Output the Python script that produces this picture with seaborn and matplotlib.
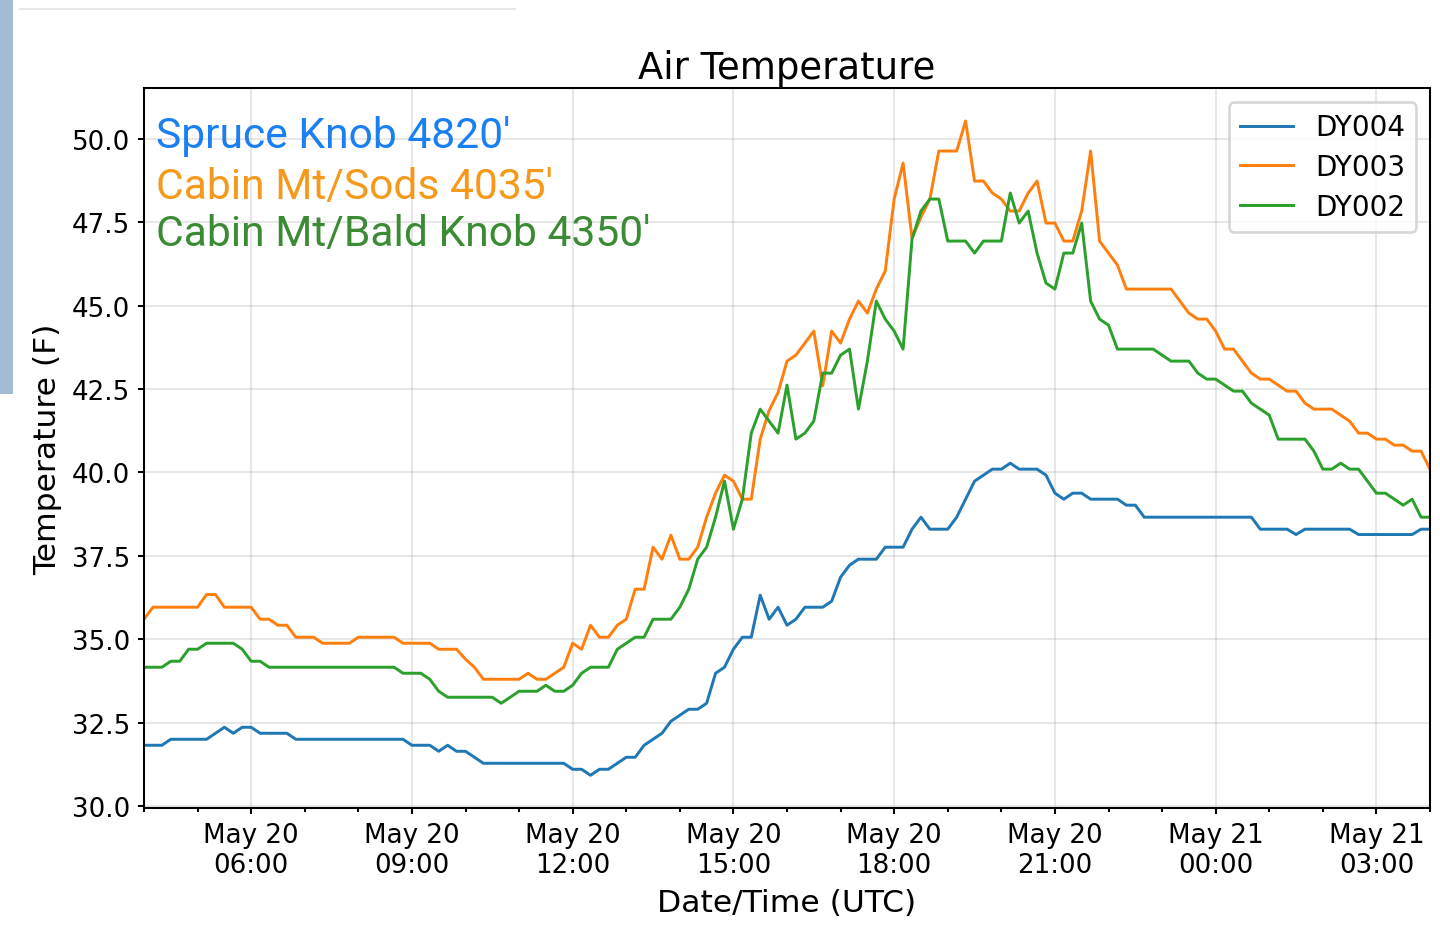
import numpy as np
import pandas as pd
import matplotlib
matplotlib.use("Agg")
import matplotlib.pyplot as plt
import matplotlib.dates as mdates
from matplotlib.patches import Rectangle
from matplotlib.lines import Line2D
import seaborn as sns

# ---------------- data (10-minute readings, deg F) ----------------
start_time = "2019-05-20 04:00"
step = "10min"

dy004 = ([31.82] * 3 + [32.0] * 5 + [32.18, 32.36, 32.18, 32.36, 32.36] + [32.18] * 4
         + [32.0] * 13 + [31.82] * 3 + [31.64, 31.82, 31.64, 31.64, 31.46] + [31.28] * 10
         + [31.1, 31.1, 30.92, 31.1, 31.1, 31.28, 31.46, 31.46, 31.82, 32.0,
            32.18, 32.54, 32.72, 32.9, 32.9, 33.08, 33.98, 34.16, 34.7, 35.06,
            35.06, 36.32, 35.6, 35.96, 35.42, 35.6, 35.96, 35.96, 35.96, 36.14,
            36.86, 37.22, 37.4, 37.4, 37.4, 37.76, 37.76, 37.76, 38.3, 38.66,
            38.3, 38.3, 38.3, 38.66, 39.2, 39.74, 39.92, 40.1, 40.1, 40.28,
            40.1, 40.1, 40.1, 39.92, 39.38, 39.2, 39.38, 39.38, 39.2, 39.2,
            39.2, 39.2, 39.02, 39.02]
         + [38.66] * 13 + [38.3] * 4 + [38.14] + [38.3] * 6 + [38.14] * 7 + [38.3, 38.3])

dy003 = ([35.6] + [35.96] * 6 + [36.34, 36.34] + [35.96] * 4 + [35.6, 35.6, 35.42, 35.42]
         + [35.06] * 3 + [34.88] * 4 + [35.06] * 5 + [34.88] * 4 + [34.7] * 3
         + [34.4, 34.16, 33.8, 33.8, 33.8, 33.8, 33.8, 33.98, 33.8, 33.8,
            33.98, 34.16, 34.88, 34.7, 35.42, 35.06, 35.06, 35.42, 35.6, 36.5,
            36.5, 37.76, 37.4, 38.12, 37.4, 37.4, 37.76, 38.66, 39.38, 39.92,
            39.74, 39.2, 39.2, 41.0, 41.86, 42.4, 43.34, 43.52, 43.88, 44.24,
            42.6, 44.24, 43.88, 44.6, 45.14, 44.78, 45.5, 46.04, 48.2, 49.28,
            47.03, 47.66, 48.2, 49.64, 49.64, 49.64, 50.54, 48.74, 48.74, 48.38,
            48.2, 47.84, 47.84, 48.38, 48.74, 47.48, 47.48, 46.94, 46.94, 47.84,
            49.64, 46.94, 46.58, 46.22]
         + [45.5] * 6
         + [45.14, 44.78, 44.6, 44.6, 44.24, 43.7, 43.7, 43.34, 42.98, 42.8,
            42.8, 42.62, 42.44, 42.44, 42.08]
         + [41.9] * 3
         + [41.72, 41.54, 41.18, 41.18, 41.0, 41.0, 40.82, 40.82, 40.64, 40.64, 40.1])

dy002 = ([34.16] * 3 + [34.34, 34.34, 34.7, 34.7] + [34.88] * 4 + [34.7, 34.34, 34.34]
         + [34.16] * 15 + [33.98] * 3 + [33.8, 33.44] + [33.26] * 6
         + [33.08, 33.26] + [33.44] * 3 + [33.62, 33.44, 33.44, 33.62, 33.98]
         + [34.16] * 3 + [34.7, 34.88, 35.06, 35.06] + [35.6] * 3
         + [35.96, 36.5, 37.4, 37.76, 38.66, 39.74, 38.3, 39.2, 41.18, 41.9,
            41.54, 41.18, 42.62, 41.0, 41.18, 41.54, 42.98, 42.98, 43.52, 43.7,
            41.9, 43.34, 45.14, 44.6, 44.24, 43.7, 47.0, 47.84, 48.2, 48.2]
         + [46.94] * 3 + [46.58] + [46.94] * 3
         + [48.38, 47.48, 47.84, 46.58, 45.68, 45.5, 46.58, 46.58, 47.48, 45.14,
            44.6, 44.42]
         + [43.7] * 5 + [43.52] + [43.34] * 3
         + [42.98, 42.8, 42.8, 42.62, 42.44, 42.44, 42.08, 41.9, 41.72]
         + [41.0] * 4
         + [40.64, 40.1, 40.1, 40.28, 40.1, 40.1, 39.74, 39.38, 39.38, 39.2,
            39.02, 39.2, 38.66, 38.66])

series_names = ["DY004", "DY003", "DY002"]
series_values = [dy004, dy003, dy002]
series_colors = ["#1f77b4", "#ff7f0e", "#2ca02c"]

site_labels = ["Spruce Knob 4820'", "Cabin Mt/Sods 4035'", "Cabin Mt/Bald Knob 4350'"]
site_colors = ["#1a7ff0", "#f5991c", "#3b8a34"]

title = "Air Temperature"
xlabel = "Date/Time (UTC)"
ylabel = "Temperature (F)"

times = pd.date_range(start_time, periods=len(dy004), freq=step)

# ---------------- figure ----------------
DPI = 185
fig = plt.figure(figsize=(1440 / DPI, 933 / DPI), dpi=DPI)
ax = fig.add_axes([144 / 1440, 1 - 809 / 933, (1430 - 144) / 1440, (809 - 89.3) / 933])

for name, vals, col in zip(series_names, series_values, series_colors):
    sns.lineplot(x=times, y=vals, ax=ax, color=col, label=name, linewidth=1.15)

ax.set_xlim(pd.Timestamp("2019-05-20 04:00"), pd.Timestamp("2019-05-21 04:00"))
ax.xaxis.set_major_locator(mdates.HourLocator(byhour=range(0, 24, 3)))
ax.xaxis.set_minor_locator(mdates.HourLocator())
ax.xaxis.set_major_formatter(mdates.DateFormatter("%b %d\n%H:%M"))
for lab in ax.get_xticklabels():
    lab.set_ha("center")

ax.set_yticks([30.0, 32.5, 35.0, 37.5, 40.0, 42.5, 45.0, 47.5, 50.0])
ax.yaxis.set_major_formatter(matplotlib.ticker.FormatStrFormatter("%.1f"))

ax.tick_params(axis="both", which="major", labelsize=10.2, length=2.3, width=0.8, pad=3)
ax.tick_params(axis="x", which="minor", length=1.4, width=0.8)
ax.grid(True, which="major", alpha=0.3)

ax.set_title(title, fontsize=14.4, pad=4)
ax.set_xlabel(xlabel, fontsize=12.2)
ax.set_ylabel(ylabel, fontsize=12.2)

ax.legend(loc="upper right", fontsize=10.8, handlelength=1.9, labelspacing=0.42)

for spine in ax.spines.values():
    spine.set_linewidth(0.8)

# site annotation text
baselines = [148, 199, 246]
for lab, col, yb in zip(site_labels, site_colors, baselines):
    fig.text(156 / 1440, 1 - yb / 933, lab, color=col, fontsize=16.6,
             family=["Roboto", "DejaVu Sans"], va="baseline", ha="left")

# screenshot frame artifacts
fig.patches.append(Rectangle((0, 1 - 395 / 933), 13 / 1440, 395 / 933,
                             transform=fig.transFigure, facecolor="#a3bbd4",
                             edgecolor="none", zorder=0))
fig.lines.append(Line2D([20 / 1440, 515 / 1440], [1 - 10 / 933, 1 - 10 / 933],
                        transform=fig.transFigure, color="#e6e6e6", linewidth=0.8))

fig.savefig("out.png", dpi=DPI)
